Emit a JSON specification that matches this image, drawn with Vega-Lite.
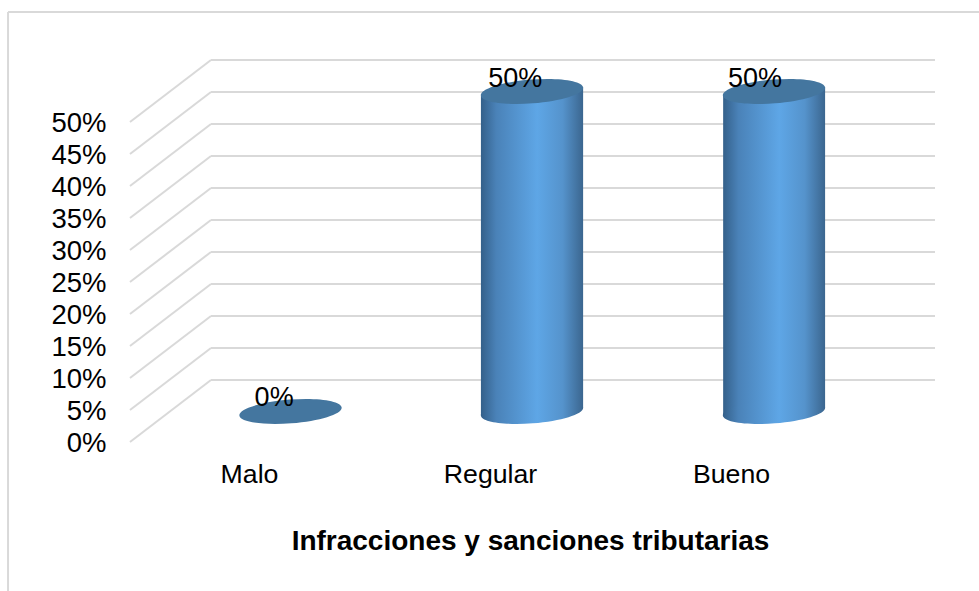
{
"$schema":"https://vega.github.io/schema/vega-lite/v6.json",
"width":805,"height":382,
"autosize":{"type":"none"},
"padding":{"left":130,"top":60,"right":44,"bottom":149},
"background":"white",
"config":{"view":{"stroke":null},"font":"Liberation Sans"},
"encoding":{
 "x":{"field":"x","type":"quantitative","scale":{"domain":[0,3.34],"nice":false,"zero":false},
  "axis":{"values":[0.5,1.5,2.5],"labelExpr":"datum.value==0.5?'Malo':datum.value==1.5?'Regular':'Bueno'","domain":false,"ticks":false,"grid":false,"labelFont":"Liberation Sans","labelFontSize":26.7,"labelColor":"#000000","labelPadding":19,"labelOffset":-1.5,"title":"Infracciones y sanciones tributarias","titleFont":"Liberation Sans","titleFontSize":28,"titleFontWeight":"bold","titleColor":"#000000","titlePadding":40,"titleX":400}},
 "y":{"field":"y","type":"quantitative","scale":{"domain":[0,59.6875],"nice":false,"zero":false},
  "axis":{"values":[0,5,10,15,20,25,30,35,40,45,50],"labelExpr":"datum.value+'%'","domain":false,"ticks":false,"grid":false,"labelFont":"Liberation Sans","labelFontSize":27.5,"labelColor":"#000000","labelPadding":24,"labelOffset":1,"title":null}}
},
"layer":[
 {"data":{"values":[
  {"x":-0.506,"x2":3.55,"y":67.2,"y2":67.2},
  {"x":-0.506,"x2":-0.506,"y":67.2,"y2":-23.5}
 ]},"mark":{"type":"rule","color":"#d9d9d9","strokeWidth":2},
 "encoding":{"x2":{"field":"x2"},"y2":{"field":"y2"}}},
 {"data":{"values":[
  {"x":0.336,"x2":3.34,"y":9.69,"y2":9.69},{"x":0.336,"x2":3.34,"y":14.69,"y2":14.69},{"x":0.336,"x2":3.34,"y":19.69,"y2":19.69},{"x":0.336,"x2":3.34,"y":24.69,"y2":24.69},{"x":0.336,"x2":3.34,"y":29.69,"y2":29.69},{"x":0.336,"x2":3.34,"y":34.69,"y2":34.69},{"x":0.336,"x2":3.34,"y":39.69,"y2":39.69},{"x":0.336,"x2":3.34,"y":44.69,"y2":44.69},{"x":0.336,"x2":3.34,"y":49.69,"y2":49.69},{"x":0.336,"x2":3.34,"y":54.69,"y2":54.69},{"x":0.336,"x2":3.34,"y":59.69,"y2":59.69},
  {"x":0,"x2":0.336,"y":0,"y2":9.69},{"x":0,"x2":0.336,"y":5,"y2":14.69},{"x":0,"x2":0.336,"y":10,"y2":19.69},{"x":0,"x2":0.336,"y":15,"y2":24.69},{"x":0,"x2":0.336,"y":20,"y2":29.69},{"x":0,"x2":0.336,"y":25,"y2":34.69},{"x":0,"x2":0.336,"y":30,"y2":39.69},{"x":0,"x2":0.336,"y":35,"y2":44.69},{"x":0,"x2":0.336,"y":40,"y2":49.69},{"x":0,"x2":0.336,"y":45,"y2":54.69},{"x":0,"x2":0.336,"y":50,"y2":59.69}
 ]},"mark":{"type":"rule","color":"#d9d9d9","strokeWidth":2},
 "encoding":{"x2":{"field":"x2"},"y2":{"field":"y2"}}},
 {"data":{"values":[
  {"cat":"Regular","x":1.456,"y":54.14,"y2":4.14},{"cat":"Regular","x":1.88,"y":55.39,"y2":5.39},
  {"cat":"Bueno","x":2.461,"y":54.14,"y2":4.14},{"cat":"Bueno","x":2.884,"y":55.39,"y2":5.39}
 ]},"mark":{"type":"area","orient":"vertical","fill":{"gradient":"linear","x1":0,"y1":0,"x2":1,"y2":0,"stops":[{"offset":0,"color":"#34608a"},{"offset":0.15,"color":"#4a82b8"},{"offset":0.55,"color":"#5ea6e6"},{"offset":0.8,"color":"#5593cc"},{"offset":1,"color":"#3b668f"}]}},
 "encoding":{"y2":{"field":"y2"},"detail":{"field":"cat"}}},
 {"data":{"values":[{"cat":"Regular","x":1.668,"y":4.77},{"cat":"Bueno","x":2.672,"y":4.77}]},
 "mark":{"type":"point","filled":true,"size":10530,"opacity":1,"shape":"M0.997,-0.078C1.007,0.050,0.569,0.188,0.018,0.231C-0.533,0.274,-0.987,0.206,-0.997,0.078C-1.007,-0.050,-0.569,-0.188,-0.018,-0.231C0.533,-0.274,0.987,-0.206,0.997,-0.078Z","fill":{"gradient":"linear","x1":0,"y1":0,"x2":1,"y2":0,"stops":[{"offset":0,"color":"#34608a"},{"offset":0.15,"color":"#4a82b8"},{"offset":0.55,"color":"#5ea6e6"},{"offset":0.8,"color":"#5593cc"},{"offset":1,"color":"#3b668f"}]}}},
 {"data":{"values":[{"cat":"Malo","x":0.666,"y":4.77},{"cat":"Regular","x":1.668,"y":54.77},{"cat":"Bueno","x":2.672,"y":54.77}]},
 "mark":{"type":"point","filled":true,"size":10530,"opacity":1,"color":"#44769f","shape":"M0.997,-0.078C1.007,0.050,0.569,0.188,0.018,0.231C-0.533,0.274,-0.987,0.206,-0.997,0.078C-1.007,-0.050,-0.569,-0.188,-0.018,-0.231C0.533,-0.274,0.987,-0.206,0.997,-0.078Z"}},
 {"data":{"values":[{"label":"0%","x":0.598,"y":6.85},{"label":"50%","x":1.598,"y":56.75},{"label":"50%","x":2.593,"y":56.75}]},
 "mark":{"type":"text","font":"Liberation Sans","fontSize":27,"color":"#000000","align":"center","baseline":"middle"},
 "encoding":{"text":{"field":"label"}}}
]
}
